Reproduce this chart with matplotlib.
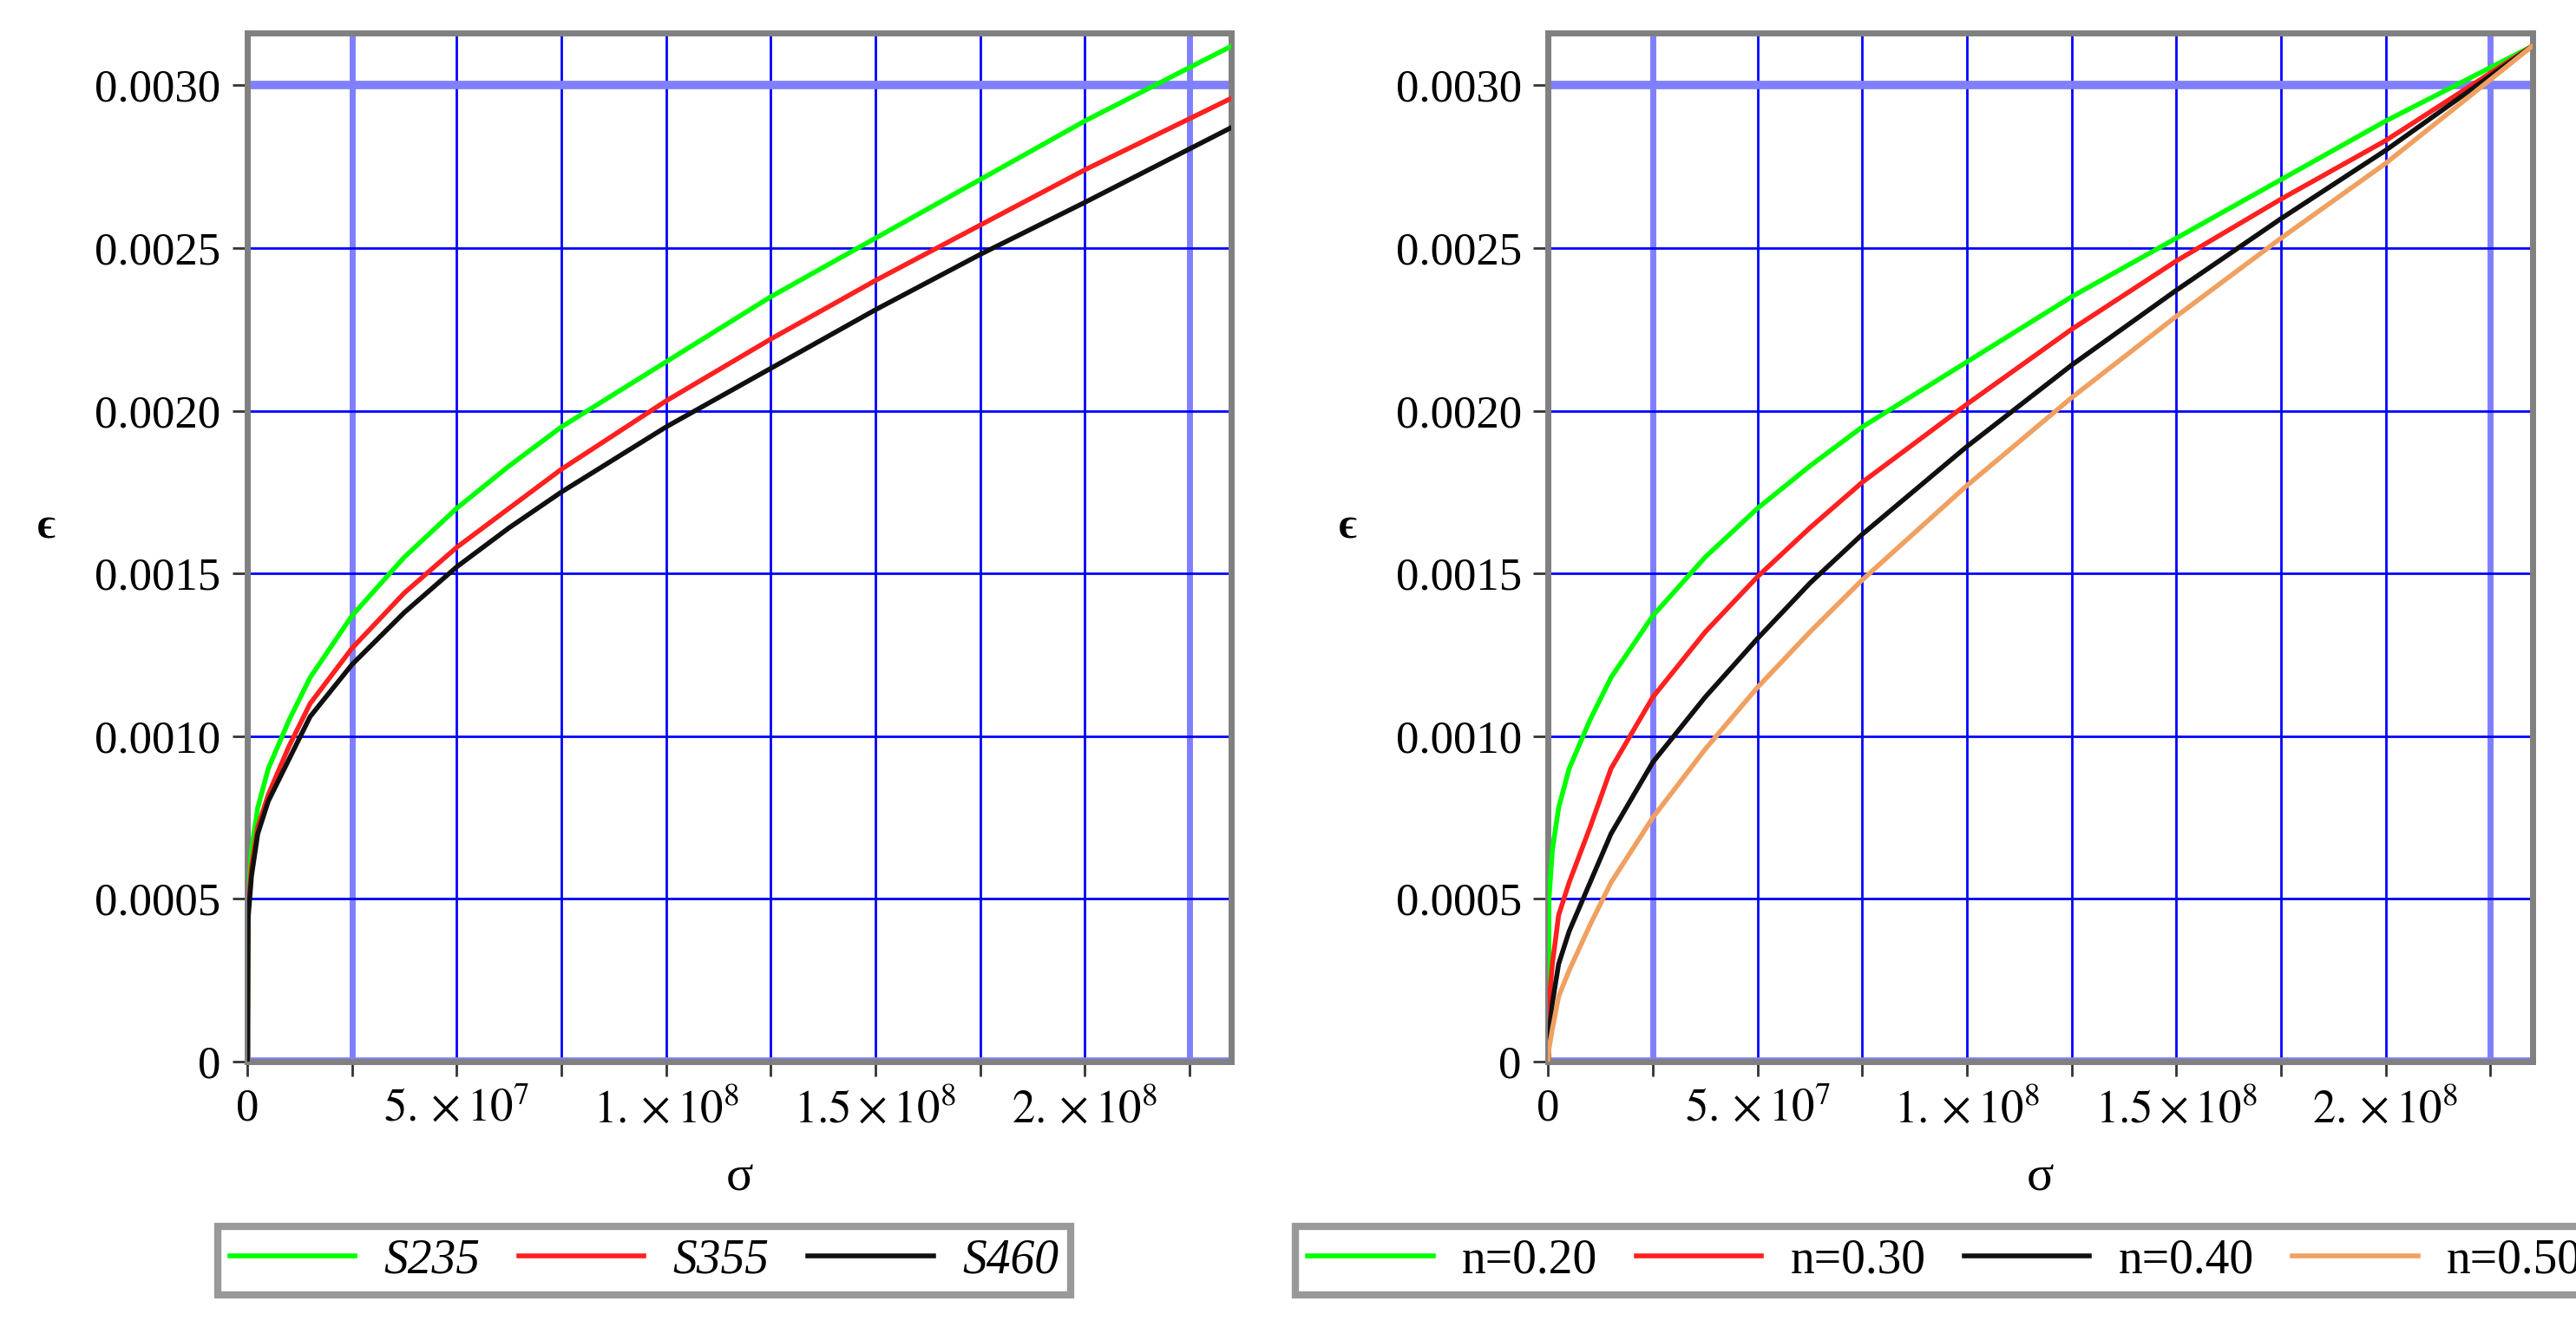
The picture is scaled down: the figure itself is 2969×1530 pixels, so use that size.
import matplotlib
matplotlib.use("Agg")
import matplotlib.pyplot as plt

sig = [0, 0.02e7, 0.1e7, 0.25e7, 0.5e7, 1e7, 1.5e7, 2.5e7, 3.75e7, 5e7, 6.25e7, 7.5e7, 10e7, 12.5e7, 15e7, 17.5e7, 20e7, 23.5e7]
s235 = [0, 0.0005, 0.00065, 0.00078, 0.0009, 0.00105, 0.00118, 0.00137, 0.00155, 0.0017, 0.00183, 0.00195, 0.00215, 0.00235, 0.00253, 0.00271, 0.00289, 0.00312]
s355 = [0, 0.00046, 0.0006, 0.00072, 0.00082, 0.00097, 0.0011, 0.00127, 0.00144, 0.00158, 0.0017, 0.00182, 0.00203, 0.00222, 0.0024, 0.00257, 0.00274, 0.00296]
s460 = [0, 0.00044, 0.00057, 0.0007, 0.0008, 0.00093, 0.00106, 0.00122, 0.00138, 0.00152, 0.00164, 0.00175, 0.00195, 0.00213, 0.00231, 0.00248, 0.00264, 0.00287]
n20 = s235
n30 = [0, 0.00018, 0.0003, 0.00045, 0.00055, 0.00072, 0.0009, 0.00112, 0.00132, 0.00149, 0.00164, 0.00178, 0.00202, 0.00225, 0.00246, 0.00265, 0.00283, 0.00312]
n40 = [0, 0.00008, 0.00018, 0.0003, 0.0004, 0.00055, 0.0007, 0.00092, 0.00112, 0.0013, 0.00147, 0.00162, 0.00189, 0.00214, 0.00237, 0.00259, 0.0028, 0.00312]
n50 = [0, 0.00004, 0.0001, 0.0002, 0.00028, 0.00042, 0.00055, 0.00075, 0.00096, 0.00115, 0.00132, 0.00148, 0.00177, 0.00204, 0.00229, 0.00253, 0.00276, 0.00312]

xticklabels = ["0", r"$5.\times10^{7}$", r"$1.\times10^{8}$", r"$1.5\times10^{8}$", r"$2.\times10^{8}$"]
yticks = [0, 0.0005, 0.001, 0.0015, 0.002, 0.0025, 0.003]
yticklabels = ["0", "0.0005", "0.0010", "0.0015", "0.0020", "0.0025", "0.0030"]

plt.rcParams['font.family'] = ['Liberation Serif', 'DejaVu Serif']
plt.rcParams['mathtext.fontset'] = 'stix'
fig = plt.figure(figsize=(29.69, 15.30), dpi=100)

def setup(ax):
    ax.set_xlim(0, 2.35e8)
    ax.set_ylim(0, 0.00316)
    for x in [i * 2.5e7 for i in range(10)]:
        thick = x in (0, 2.25e8, 2.5e7)
        ax.axvline(x, color='#8080ff' if thick else '#0000ff', lw=5 if thick else 2, zorder=1)
    for y in yticks:
        thick = y in (0, 0.003)
        ax.axhline(y, color='#8080ff' if thick else '#0000ff', lw=7 if thick else 2, zorder=1)
    ax.set_xticks([i * 2.5e7 for i in range(10)])
    ax.set_xticklabels(["0", "", xticklabels[1], "", xticklabels[2], "", xticklabels[3], "", xticklabels[4], ""])
    ax.set_yticks(yticks)
    ax.set_yticklabels(yticklabels)
    ax.tick_params(labelsize=38, length=12, width=2, color='#333333', pad=10)
    for s in ax.spines.values():
        s.set_color('#808080')
        s.set_linewidth(5)
    ax.set_xlabel("σ", fontsize=42, labelpad=20)
    ax.set_ylabel("ϵ", fontsize=36, rotation=0, labelpad=40, fontweight='bold')

ax1 = fig.add_axes([0.096, 0.20, 0.382, 0.775])
ax2 = fig.add_axes([0.601, 0.20, 0.382, 0.775])
for ax in (ax1, ax2):
    setup(ax)

ax1.plot(sig, s235, color='#00ff00', lw=4, label='S235', zorder=3)
ax1.plot(sig, s355, color='#ff2020', lw=4, label='S355', zorder=3)
ax1.plot(sig, s460, color='#101010', lw=4, label='S460', zorder=3)
ax2.plot(sig, n20, color='#00ff00', lw=4, label='n=0.20', zorder=3)
ax2.plot(sig, n30, color='#ff2020', lw=4, label='n=0.30', zorder=3)
ax2.plot(sig, n40, color='#101010', lw=4, label='n=0.40', zorder=3)
ax2.plot(sig, n50, color='#f0a060', lw=4, label='n=0.50', zorder=3)

for ax, it, cx in ((ax1, True, 0.25), (ax2, False, 0.755)):
    leg = ax.legend(loc='center', bbox_to_anchor=(cx, 0.05), bbox_transform=fig.transFigure,
                    ncol=4, fontsize=40, frameon=True, fancybox=False, edgecolor='#808080',
                    handlelength=2.6, columnspacing=0.8, handletextpad=0.6, borderpad=0.25)
    leg.get_frame().set_linewidth(6)
    for t in leg.get_texts():
        if it:
            t.set_fontstyle('italic')

fig.savefig("out.png", dpi=100, facecolor='white')
